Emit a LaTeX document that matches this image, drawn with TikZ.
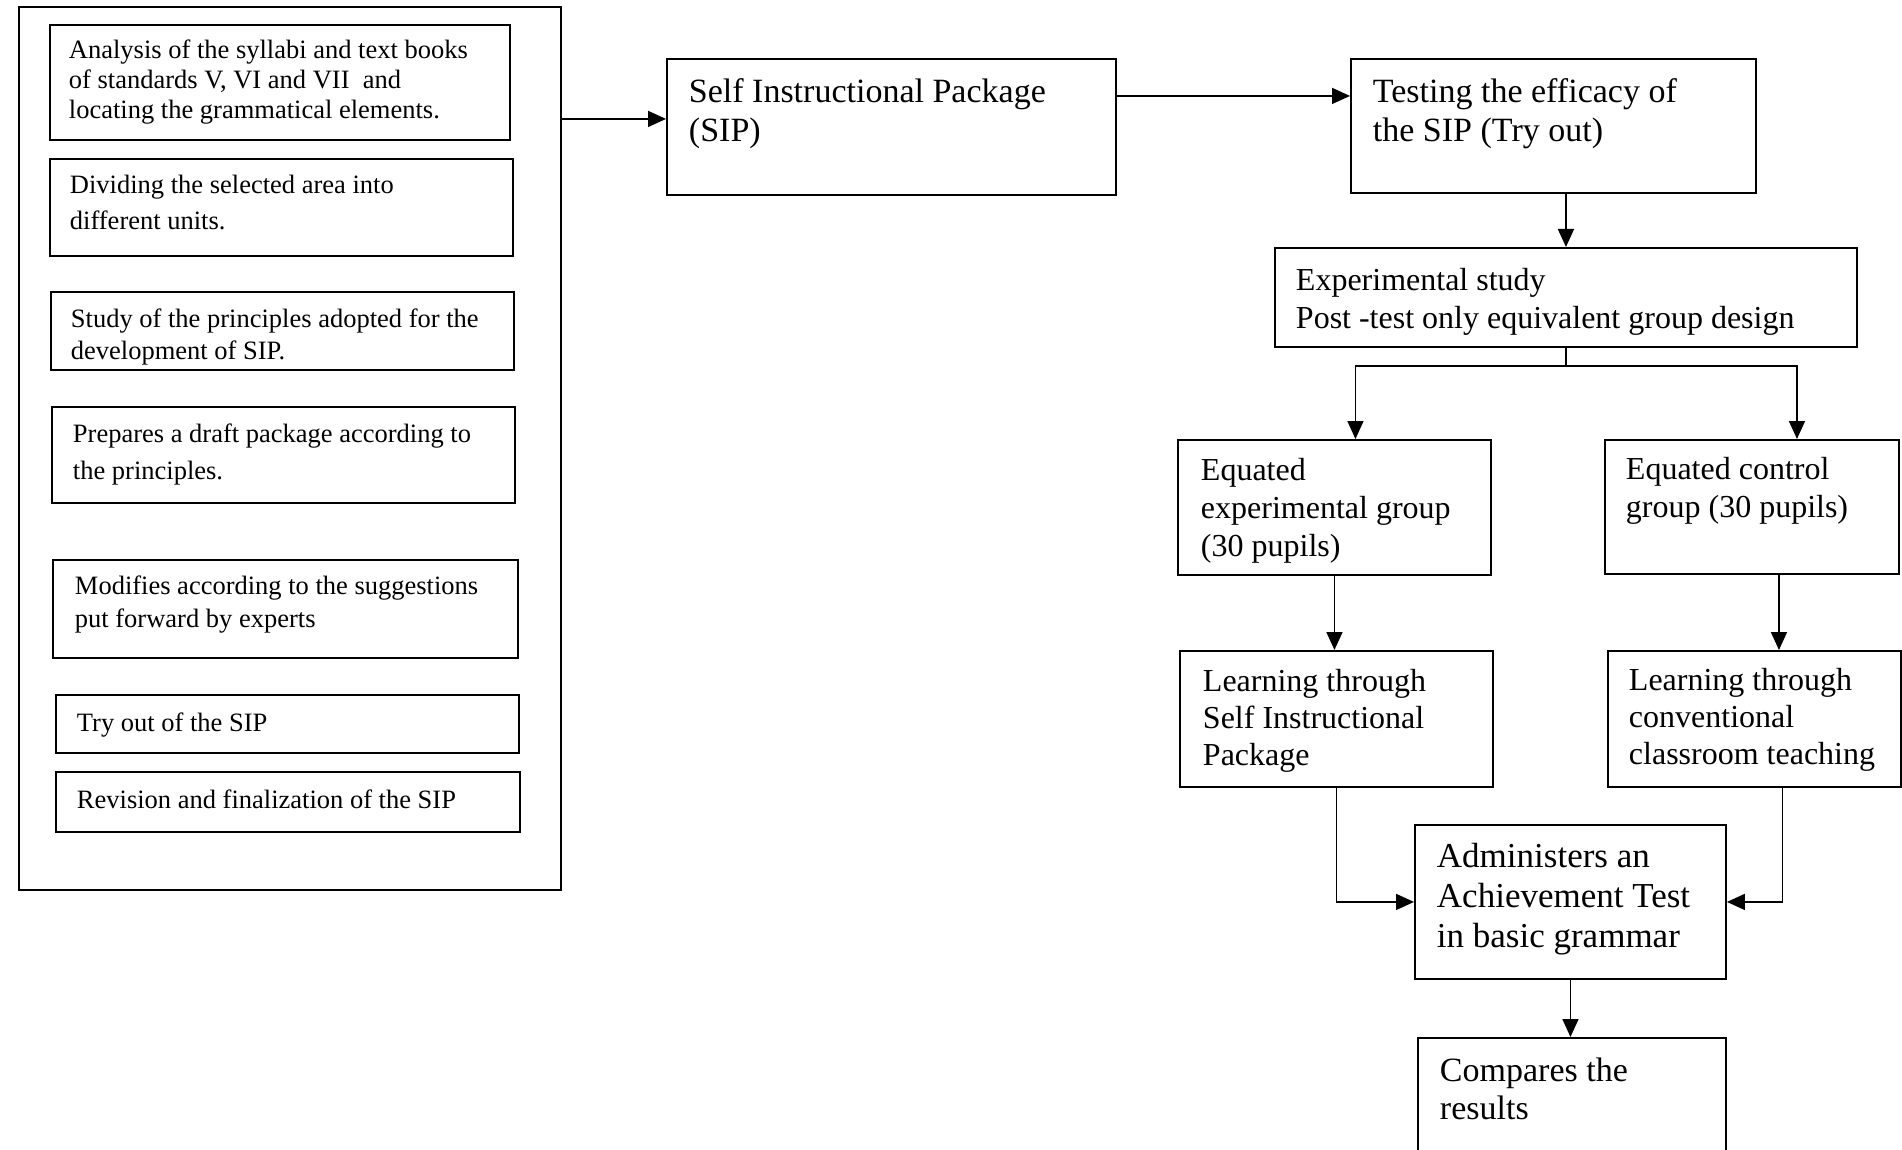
\documentclass[tikz,border=0pt]{standalone}
\usepackage{fontspec}
\setmainfont{Liberation Serif}
\usetikzlibrary{arrows.meta,calc}
\newcommand\mytxt[5]{\parbox[t][#2][t]{#1}{\raggedright\leftskip=#3\relax\rule{0pt}{#4}#5}}
\begin{document}
\begin{tikzpicture}[x=1pt,y=-1pt,
  box/.style={draw, line width=1.9pt, inner sep=0pt, anchor=north west},
  small/.style={font=\fontsize{26.5}{#1}\selectfont},
  big/.style={font=\fontsize{34}{#1}\selectfont},
  mid/.style={font=\fontsize{32}{#1}\selectfont},
  arr/.style={line width=1.6pt, -{Triangle[length=18pt,width=16pt]}},
  ln/.style={line width=1.6pt}]
\useasboundingbox (0,0) rectangle (1902,1150);

% left column
\node[box, minimum width=542pt, minimum height=883pt] (outer) at (18,6) {};
\node[box, small=30] (a1) at (49,24) {\mytxt{460pt}{115pt}{19pt}{34pt}{Analysis of the syllabi and text books\\ of standards V, VI and VII~ and\\ locating the grammatical elements.}};
\node[box, small=36] (a2) at (49,158) {\mytxt{463pt}{97pt}{20pt}{35pt}{Dividing the selected area into\\ different units.}};
\node[box, small=31.5] (a3) at (50,291) {\mytxt{463pt}{78pt}{20pt}{36pt}{Study of the principles adopted for the\\ development of SIP.}};
\node[box, small=37.5] (a4) at (51,406) {\mytxt{463pt}{96pt}{21pt}{35.5pt}{Prepares a draft package according to\\ the principles.}};
\node[box, small=33] (a5) at (52,559) {\mytxt{465pt}{98pt}{22pt}{35pt}{Modifies according to the suggestions\\ put forward by experts}};
\node[box, small=30] (a6) at (55,694) {\mytxt{463pt}{58pt}{21pt}{37pt}{Try out of the SIP}};
\node[box, small=30] (a7) at (55,771) {\mytxt{464pt}{60pt}{21pt}{37pt}{Revision and finalization of the SIP}};

% right part
\node[box, big=39] (sip) at (666,58) {\mytxt{449pt}{136pt}{22pt}{44pt}{Self Instructional Package\\ (SIP)}};
\node[box, big=39] (test) at (1350,58) {\mytxt{405pt}{134pt}{22pt}{44pt}{Testing the efficacy of\\ the SIP (Try out)}};
\node[box, mid=38] (exp) at (1274,247) {\mytxt{582pt}{99pt}{21pt}{42.5pt}{Experimental study\\ Post -test only equivalent group design}};
\node[box, mid=37.6] (eqe) at (1177,439) {\mytxt{313pt}{135pt}{23pt}{41pt}{Equated\\ experimental group\\ (30 pupils)}};
\node[box, mid=37.6] (eqc) at (1604,439) {\mytxt{294pt}{134pt}{21pt}{40pt}{Equated control\\ group (30 pupils)}};
\node[box, mid=37] (lse) at (1179,650) {\mytxt{313pt}{136pt}{23pt}{41pt}{Learning through\\ Self Instructional\\ Package}};
\node[box, mid=37] (lsc) at (1607,650) {\mytxt{293pt}{136pt}{21pt}{40pt}{Learning through\\ conventional\\ classroom teaching}};
\node[box, font=\fontsize{35}{40}\selectfont] (adm) at (1414,824) {\mytxt{311pt}{154pt}{22pt}{43pt}{Administers an\\ Achievement Test\\ in basic grammar}};
\node[box, big=38] (cmp) at (1417,1037) {\mytxt{308pt}{123pt}{22pt}{44pt}{Compares the\\ results}};

% connectors
\draw[arr] ([yshift=8pt]sip.west -| outer.east) -- ([yshift=8pt]sip.west);
\draw[arr] ([yshift=31pt]sip.east) -- ([yshift=31pt]sip.east -| test.west);
\draw[arr] (test.south -| exp.north) -- (exp.north);
\coordinate (split) at ([yshift=-18pt]exp.south);
\draw[ln] (exp.south) -- (split);
\draw[arr] (split) -| ([xshift=21pt]eqe.north);
\draw[arr] (split) -| ([xshift=45pt]eqc.north);
\draw[arr] (eqe.south) -- (eqe.south |- lse.north);
\draw[arr] ([xshift=27pt]eqc.south) -- ([xshift=27pt]eqc.south |- lsc.north);
\draw[arr] (lse.south) |- (adm.west);
\draw[arr] ([xshift=28pt]lsc.south) |- (adm.east);
\draw[arr] (adm.south) -- (adm.south |- cmp.north);
\end{tikzpicture}
\end{document}
